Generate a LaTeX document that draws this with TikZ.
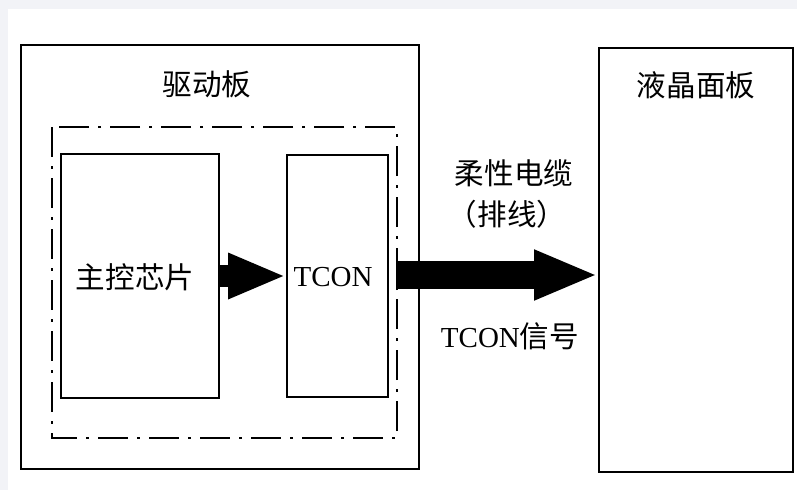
\documentclass[tikz,border=0pt]{standalone}
\usepackage{fontspec}
\setmainfont{Liberation Serif}
\newfontfamily\cjk[Scale=1.02]{Noto Sans CJK SC}
\usetikzlibrary{arrows.meta}
\definecolor{edgegray}{HTML}{F2F3F7}
\tikzset{
  box/.style={draw=black, line width=2pt, minimum width=#1, inner sep=0pt},
  lbl/.style={font=\fontsize{29}{32}\selectfont, inner sep=0pt},
  dashdot box/.style={draw=black, line width=2pt, dash pattern=on 30pt off 9pt on 3pt off 9pt},
}
\begin{document}
\begin{tikzpicture}[x=1pt, y=-1pt]
\useasboundingbox (0,0) rectangle (797,490);
\fill[edgegray] (0,0) rectangle (797,490);
\fill[white] (8,9) rectangle (797,490);
% outer board
\node[box=398pt, minimum height=424pt, anchor=north west] (board) at (20,44) {};
\node[lbl] (boardlbl) at (207,84) {\cjk 驱动板};
% dash-dot region
\draw[dashdot box] (52,127) rectangle (397,438);
\coordinate (dashE) at (396,275);
% chip
\node[box=158pt, minimum height=244pt, anchor=north west] (chip) at (60,153) {};
\node[lbl] (chiplbl) at (135,277) {\cjk 主控芯片};
% tcon
\node[box=101pt, minimum height=242pt, anchor=north west] (tcon) at (286,154) {};
\node[lbl] (tconlbl) at (333,277) {TCON};
% panel
\node[box=194pt, minimum height=424pt, anchor=north west] (panel) at (598,47) {};
\node[lbl] (panellbl) at (696,85) {\cjk 液晶面板};
% cable labels
\node[lbl] (cable1) at (514,173) {\cjk 柔性电缆};
\node[lbl] (cable2) at (507,214) {\cjk （排线）};
\node[lbl] (sig) at (510,336) {TCON\cjk 信号};
% arrows
\draw[line width=22pt, -{Triangle[length=58pt, width=42pt]}] (chip.east |- tcon.center) -- (tcon.west);
\draw[line width=28pt, -{Triangle[length=64pt, width=46pt]}] (dashE) -- (panel.west |- dashE);
\end{tikzpicture}
\end{document}
